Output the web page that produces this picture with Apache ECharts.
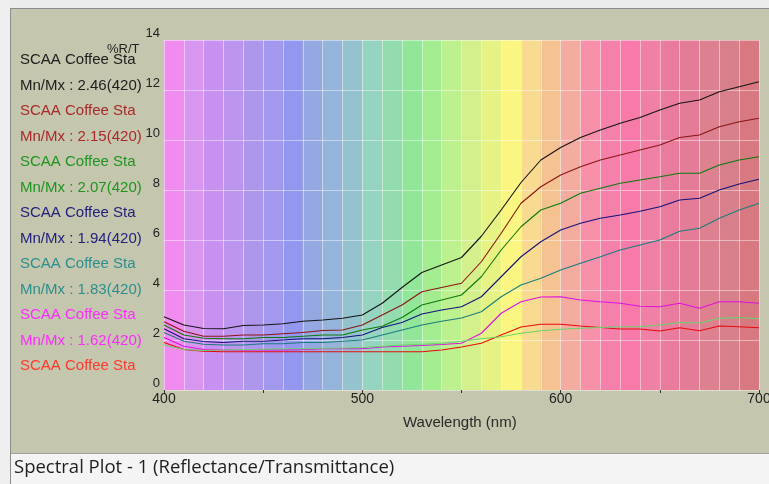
<!DOCTYPE html>
<html><head><meta charset="utf-8">
<script src="https://cdn.jsdelivr.net/npm/echarts@6/dist/echarts.min.js"></script>
<style>html,body{margin:0;padding:0;background:#c5c6ae;}#c{width:769px;height:484px;}</style>
</head><body><div id="c"></div><script>
const wavelengths = [400,410,420,430,440,450,460,470,480,490,500,510,520,530,540,550,560,570,580,590,600,610,620,630,640,650,660,670,680,690,700];
const black = [2.93,2.6,2.46,2.45,2.58, 2.6,2.65,2.75,2.8,2.87, 3.0,3.47,4.1,4.7,5.0, 5.3,6.15,7.2,8.3,9.2, 9.7,10.1,10.4,10.67,10.9, 11.2,11.47,11.6,11.93,12.13, 12.33];
const darkRed = [2.73,2.35,2.15,2.15,2.2, 2.2,2.25,2.3,2.38,2.4, 2.6,3.0,3.4,3.93,4.1, 4.27,5.13,6.27,7.47,8.13, 8.6,8.93,9.2,9.4,9.6, 9.8,10.1,10.2,10.53,10.73, 10.87];
const green = [2.6,2.2,2.07,2.05,2.05, 2.1,2.1,2.15,2.2,2.2, 2.4,2.55,2.9,3.4,3.6, 3.8,4.53,5.6,6.53,7.2, 7.47,7.87,8.07,8.27,8.4, 8.53,8.67,8.67,9.0,9.2, 9.33];
const navy = [2.45,2.05,1.94,1.9,1.95, 1.95,2.0,2.05,2.05,2.1, 2.2,2.5,2.7,3.04,3.2, 3.33,3.73,4.53,5.33,5.93, 6.4,6.67,6.87,7.0,7.15, 7.33,7.6,7.67,8.0,8.24, 8.43];
const teal = [2.3,1.95,1.83,1.8,1.8, 1.85,1.85,1.9,1.9,1.95, 2.0,2.2,2.4,2.6,2.75, 2.88,3.13,3.73,4.2,4.47, 4.8,5.07,5.33,5.6,5.8, 6.0,6.35,6.47,6.87,7.2, 7.47];
const magenta = [2.1,1.75,1.62,1.6,1.6, 1.6,1.6,1.62,1.65,1.65, 1.65,1.72,1.75,1.78,1.82, 1.87,2.27,3.07,3.53,3.72, 3.73,3.6,3.53,3.47,3.35, 3.33,3.47,3.27,3.53,3.53, 3.47];
const red = [1.9,1.62,1.55,1.53,1.53, 1.53,1.53,1.53,1.53,1.53, 1.53,1.53,1.53,1.53,1.6, 1.72,1.87,2.2,2.52,2.63, 2.63,2.56,2.5,2.44,2.44, 2.36,2.49,2.37,2.56,2.53, 2.49];
const lightGreen = [1.8,1.62,1.58,1.6,1.62, 1.63,1.65,1.65,1.67,1.68, 1.7,1.75,1.8,1.83,1.87, 1.95,2.05,2.13,2.27,2.37, 2.43,2.47,2.5,2.53,2.53, 2.6,2.7,2.68,2.87,2.9, 2.85];

const seriesNames = ['SCAA Coffee Sta','SCAA Coffee Sta','SCAA Coffee Sta','SCAA Coffee Sta','SCAA Coffee Sta','SCAA Coffee Sta','SCAA Coffee Sta','SCAA Coffee Sta'];
const mnMx = ['Mn/Mx : 2.46(420)','Mn/Mx : 2.15(420)','Mn/Mx : 2.07(420)','Mn/Mx : 1.94(420)','Mn/Mx : 1.83(420)','Mn/Mx : 1.62(420)'];
const yTicks = [0,2,4,6,8,10,12,14];
const xTickLabels = [400,500,600,700];
const bandStarts = [400,410,420,430,440,450,460,470,480,490,500,510,520,530,540,550,560,570,580,590,600,610,620,630,640,650,660,670,680,690];

const allSeries = [black, darkRed, green, navy, teal, magenta, red, lightGreen];
const lineColors = ['#141414','#8b1414','#0c7a0c','#12127a','#1a7d7d','#e010e0','#e80a0a','#6ad46a'];
const textColors = ['#202020','#a82a2a','#1f951f','#22227e','#2c8f8f','#ff2cff','#ff3a2a'];
const bandColors = ['#f08cf0','#d896f0','#c890f0','#bb95ee','#ae96ec','#a299ee','#9497f0','#96a8e2','#95b4dc','#94c2cf',
  '#96d4c2','#92dcb0','#92e69a','#a4ec90','#bdf08e','#d4f08c','#e6f284','#fbf682','#f8da90','#f5c292',
  '#f4aca0','#f890aa','#f680ac','#f87aa8','#f080a6','#e97c9c','#e47c98','#dd8090','#d7808c','#d87880'];

const chart = echarts.init(document.getElementById('c'));
const FONT = 'Liberation Sans, Arial, sans-serif';

const bandData = bandStarts.map((s, i) => [
  { xAxis: s, itemStyle: { color: bandColors[i] } },
  { xAxis: s + 10 }
]);

const series = [{
  type: 'line', data: [], silent: true, z: 1,
  markArea: { silent: true, itemStyle: { opacity: 1 }, data: bandData }
}];
allSeries.forEach((vals, i) => {
  series.push({
    type: 'line', name: seriesNames[i], z: 5,
    data: wavelengths.map((w, j) => [w, vals[j]]),
    showSymbol: false, symbol: 'none', animation: false,
    lineStyle: { color: lineColors[i], width: 1.1 },
    itemStyle: { color: lineColors[i] }
  });
});

const graphic = [
  { type: 'rect', shape: { x: 0, y: 0, width: 769, height: 8 }, style: { fill: '#ececec' }, silent: true },
  { type: 'rect', shape: { x: 0, y: 0, width: 10, height: 484 }, style: { fill: '#efefef' }, silent: true },
  { type: 'line', shape: { x1: 10, y1: 8.5, x2: 769, y2: 8.5 }, style: { stroke: '#8c8c8c', lineWidth: 1 }, silent: true },
  { type: 'line', shape: { x1: 10.5, y1: 8, x2: 10.5, y2: 484 }, style: { stroke: '#8c8c8c', lineWidth: 1 }, silent: true },
  { type: 'rect', shape: { x: 11, y: 454, width: 758, height: 30 }, style: { fill: '#f4f4f4' }, silent: true },
  { type: 'line', shape: { x1: 11, y1: 453.5, x2: 769, y2: 453.5 }, style: { stroke: '#a0a0a0', lineWidth: 1 }, silent: true },
  { type: 'text', x: 14, y: 468, style: { text: 'Spectral Plot - 1 (Reflectance/Transmittance)', font: '18.5px "Open Sans", sans-serif', fill: '#1e1e1e', verticalAlign: 'middle' }, silent: true },
  { type: 'text', x: 107, y: 49, style: { text: '%R/T', font: '13px ' + FONT, fill: '#222', verticalAlign: 'middle' }, silent: true, z: 10 },
  { type: 'text', x: 403, y: 423, style: { text: 'Wavelength (nm)', font: '15px ' + FONT, fill: '#2a2a2a', verticalAlign: 'middle' }, silent: true }
];
let row = 0;
for (let i = 0; i < 7; i++) {
  graphic.push({ type: 'text', x: 20, y: 60 + row * 25.5, style: { text: seriesNames[i], font: '15px ' + FONT, fill: textColors[i], verticalAlign: 'middle' }, silent: true });
  row++;
  if (i < mnMx.length) {
    graphic.push({ type: 'text', x: 20, y: 60 + row * 25.5, style: { text: mnMx[i], font: '15px ' + FONT, fill: textColors[i], verticalAlign: 'middle' }, silent: true });
    row++;
  }
}

chart.setOption({
  animation: false,
  backgroundColor: '#c5c6ae',
  grid: { left: 164, right: 10, top: 40, bottom: 94, containLabel: false, outerBoundsMode: 'none' },
  xAxis: {
    type: 'value', min: 400, max: 700, interval: 50, z: 3,
    axisLine: { show: false },
    axisTick: { show: true, length: 3, inside: false, lineStyle: { color: '#333' } },
    axisLabel: { fontSize: 14, fontFamily: FONT, color: '#222', margin: 2, hideOverlap: false,
      formatter: v => xTickLabels.includes(v) ? String(v) : '' },
    splitLine: { show: true, lineStyle: { color: 'rgba(255,255,255,0.45)', width: 1 } },
    minorTick: { show: false, splitNumber: 5 },
    minorSplitLine: { show: true, lineStyle: { color: 'rgba(255,255,255,0.45)', width: 1 } }
  },
  yAxis: {
    type: 'value', min: 0, max: 14, interval: 2, z: 3,
    axisLine: { show: false }, axisTick: { show: false },
    axisLabel: { fontSize: 13, fontFamily: FONT, color: '#222', margin: 4, verticalAlign: 'bottom', lineHeight: 13,
      formatter: v => yTicks.includes(v) ? String(v) : '' },
    splitLine: { show: true, lineStyle: { color: 'rgba(255,255,255,0.45)', width: 1 } }
  },
  series: series,
  graphic: graphic
});
</script></body></html>
